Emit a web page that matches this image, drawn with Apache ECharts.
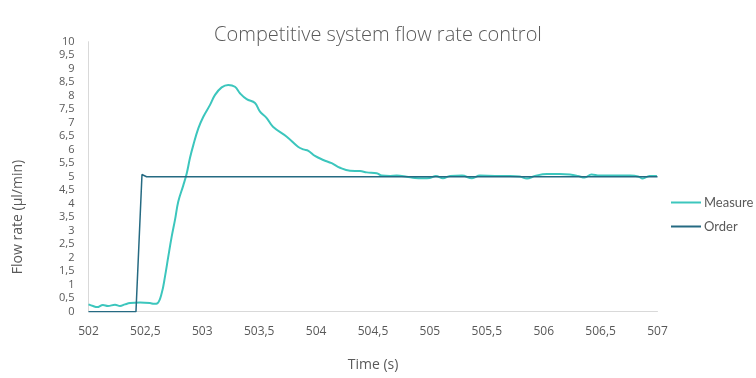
<!DOCTYPE html>
<html>
<head>
<meta charset="utf-8">
<script src="https://cdn.jsdelivr.net/npm/echarts@6/dist/echarts.min.js"></script>
<style>html,body{margin:0;padding:0;background:#fff;width:100%;height:100%;overflow:hidden}#c{width:756px;height:378px}</style>
</head>
<body>
<div id="c"></div>
<script>
const titleText = "Competitive system flow rate control";
const xName = "Time (s)";
const yName = "Flow rate (µl/min)";
const seriesNames = ["Measure", "Order"];

const measureTime = [502.00,502.04,502.075,502.127,502.171,502.233,502.277,502.32,502.365,502.453,502.54,502.575,502.605,502.643,502.672,502.701,502.731,502.760,502.789,502.833,502.863,502.892,502.921,502.965,503.009,503.068,503.112,503.170,503.228,503.287,503.331,503.39,503.463,503.507,503.566,503.621,503.742,503.841,503.888,503.932,503.99,504.063,504.137,504.21,504.298,504.386,504.445,504.533,504.577,504.65,504.708,504.796,504.869,504.94,505.0,505.053,505.115,505.177,505.282,505.37,505.44,505.572,505.704,505.79,505.853,505.924,506.03,506.14,506.23,506.30,506.36,506.42,506.49,506.62,506.76,506.83,506.87,506.93,506.995];
const measureFlow = [0.27,0.21,0.17,0.25,0.21,0.26,0.21,0.27,0.32,0.34,0.32,0.29,0.31,0.68,1.30,2.04,2.78,3.40,4.08,4.68,5.12,5.70,6.17,6.79,7.22,7.66,8.03,8.31,8.40,8.33,8.09,7.87,7.73,7.41,7.17,6.85,6.48,6.11,6.01,5.96,5.77,5.62,5.50,5.33,5.22,5.21,5.16,5.13,5.04,5.03,5.04,5.00,4.95,4.94,4.95,5.03,4.94,5.03,5.04,4.94,5.04,5.03,5.03,5.01,4.93,5.03,5.10,5.10,5.08,5.03,4.97,5.08,5.04,5.04,5.04,5.01,4.93,5.03,5.03];

const orderTime = [502.0, 502.417, 502.47, 502.51, 507.0];
const orderFlow = [0, 0, 5.08, 5.0, 5.0];

const xTicks = { min: 502, max: 507, interval: 0.5 };
const yTicks = { min: 0, max: 10, interval: 0.5 };

const fmt = v => String(+v.toFixed(1)).replace('.', ',');
const pairs = (xs, ys) => xs.map((x, i) => [x, ys[i]]);

const el = document.getElementById('c');
const chart = echarts.init(el, null, { renderer: 'canvas' });
const font = "Open Sans";
chart.setOption({
  animation: false,
  backgroundColor: '#ffffff',
  title: {
    text: titleText, left: 'center', top: 20,
    textStyle: { fontFamily: font, fontWeight: 300, fontSize: 20, color: '#595959' }
  },
  legend: {
    orient: 'vertical', left: 666, top: 191,
    itemWidth: 30, itemHeight: 2, itemGap: 11, icon: 'rect',
    textStyle: { fontFamily: "Lato", fontSize: 13, color: '#595959', padding: [0, 0, 0, -2] },
    data: seriesNames
  },
  grid: { left: 88.5, right: 98.5, top: 41.7, bottom: 66.3, containLabel: false, outerBoundsMode: 'none' },
  xAxis: {
    type: 'value', min: xTicks.min, max: xTicks.max, interval: xTicks.interval,
    name: xName, nameLocation: 'middle', nameGap: 46,
    nameTextStyle: { fontFamily: font, fontSize: 14, color: '#595959' },
    axisLine: { show: true, lineStyle: { color: '#d9d9d9', width: 1 } },
    axisTick: { show: false },
    splitLine: { show: false },
    axisLabel: { formatter: fmt, margin: 14, fontFamily: font, fontSize: 12, color: '#595959' }
  },
  yAxis: {
    type: 'value', min: yTicks.min, max: yTicks.max, interval: yTicks.interval,
    axisLine: { show: true, lineStyle: { color: '#d9d9d9', width: 1 } },
    axisTick: { show: false },
    splitLine: { show: false },
    axisLabel: { formatter: fmt, margin: 14, fontFamily: font, fontSize: 11, color: '#595959' }
  },
  graphic: [{
    type: 'text', x: 18.5, y: 217, rotation: Math.PI / 2,
    style: { text: yName, textAlign: 'center', textVerticalAlign: 'middle',
      font: '14px "Open Sans"', fill: '#595959' }
  }],
  series: [
    { name: seriesNames[0], type: 'line', data: pairs(measureTime, measureFlow),
      smooth: 0.4, symbol: 'none', color: '#3cc6bd',
      lineStyle: { width: 2, color: '#3cc6bd' } },
    { name: seriesNames[1], type: 'line', data: pairs(orderTime, orderFlow),
      symbol: 'none', color: '#256a82',
      lineStyle: { width: 1.5, color: '#256a82' } }
  ]
});
</script>
</body>
</html>
